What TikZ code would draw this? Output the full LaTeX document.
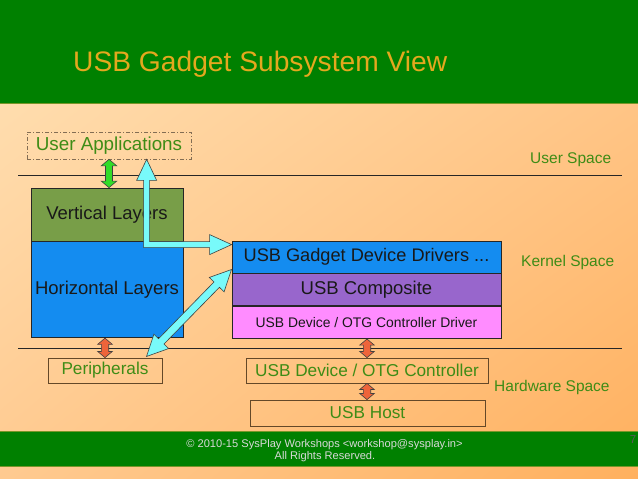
\documentclass[tikz,border=0pt]{standalone}
\usepackage{fontspec}
\setmainfont{Liberation Sans}
\usetikzlibrary{positioning,calc,shapes.arrows,shadings}
\definecolor{slidegreen}{RGB}{0,128,0}
\definecolor{barline}{RGB}{120,150,40}
\definecolor{titlegold}{RGB}{228,168,30}
\definecolor{labelgreen}{RGB}{62,140,22}
\definecolor{peachlight}{RGB}{255,226,182}
\definecolor{peachmid}{RGB}{255,202,144}
\definecolor{peachdeep}{RGB}{255,176,94}
\definecolor{layerolive}{RGB}{120,158,72}
\definecolor{layerblue}{RGB}{20,140,240}
\definecolor{layerpurple}{RGB}{152,102,204}
\definecolor{layerpink}{RGB}{255,140,255}
\definecolor{boxbrown}{RGB}{100,72,40}
\definecolor{linkcyan}{RGB}{120,250,250}
\definecolor{linkgreen}{RGB}{50,220,40}
\definecolor{linkorange}{RGB}{238,100,58}
\tikzset{
  layer/.style={draw=black!85,line width=0.8pt,inner sep=0pt,text=black!90,font=\fontsize{18.5}{20}\selectfont},
  hwbox/.style={draw=boxbrown,line width=0.8pt,inner sep=0pt,text=labelgreen,minimum height=25,font=\fontsize{17.2}{19}\selectfont},
  spacelbl/.style={anchor=base west,inner sep=0pt,text=labelgreen,font=\fontsize{15.5}{17}\selectfont},
  sepline/.style={draw=black!85,line width=0.7pt},
  fatlink/.style={double arrow,draw=black!75,line width=0.6pt,inner xsep=0pt,minimum width=0pt,double arrow head indent=0pt},
  greenlink/.style={fatlink,fill=linkgreen,inner ysep=3.2pt,double arrow head extend=4.3pt,double arrow tip angle=100},
  orangelink/.style={fatlink,fill=linkorange,inner ysep=3.4pt,double arrow head extend=3.6pt,double arrow tip angle=100},
  cyanlink/.style={fatlink,fill=linkcyan,inner ysep=3.5pt,double arrow head extend=6.5pt,double arrow tip angle=52}
}
\newcommand{\fatlink}[3]{%
  \path let \p1=(#2), \p2=(#3), \n1={atan2(\y2-\y1,\x2-\x1)}, \n2={veclen(\x2-\x1,\y2-\y1)} in
    node[#1,rotate=\n1,minimum height=\n2] at ($(\p1)!0.5!(\p2)$) {};%
}

\begin{document}
\begin{tikzpicture}[x=1pt,y=-1pt]
  \useasboundingbox (0,0) rectangle (638,479);
  % slide background
  \shade[upper left=peachlight,upper right=peachmid,lower left=peachmid,lower right=peachdeep] (0,0) rectangle (638,479);
  \fill[slidegreen] (0,0) rectangle (638,103);
  \draw[barline,line width=1.5pt] (0,103.5) -- (638,103.5);
  \fill[slidegreen] (0,431) rectangle (638,466);
  \draw[barline,line width=1pt] (0,431) -- (638,431) (0,466) -- (638,466);
  \node[anchor=base west,inner sep=0pt,text=titlegold,font=\fontsize{28.2}{30}\selectfont] (title) at (73,71) {USB Gadget Subsystem View};
  \node[anchor=base,inner sep=0pt,text=black!15,font=\fontsize{11.1}{13}\selectfont] (copy) at (324.5,447) {© 2010-15 SysPlay Workshops <workshop@sysplay.in>};
  \node[anchor=base,inner sep=0pt,text=black!15,font=\fontsize{11.1}{13}\selectfont] (rights) at (325,459.5) {All Rights Reserved.};
  \node[anchor=base east,inner sep=0pt,text=black!65,font=\fontsize{11.5}{13}\selectfont] (pageno) at (636.5,443) {7};

  % space borders
  \draw[sepline] (18,175) -- (622,175);
  \draw[sepline] (18,348) -- (622,348);
  \node[spacelbl] (usp) at (530,163) {User Space};
  \node[spacelbl] (ksp) at (521,266) {Kernel Space};
  \node[spacelbl] (hsp) at (494,391) {Hardware Space};

  % blocks
  \node[draw=boxbrown!80,line width=0.7pt,dash pattern=on 4pt off 2pt on 1pt off 2pt,inner sep=0pt,minimum width=164,minimum height=27,text=labelgreen,font=\fontsize{18.8}{20}\selectfont] (apps) at (109,145.5) {User Applications};
  \node[layer,fill=layerolive,minimum width=152,minimum height=53] (vert) at (107,214.5) {Vertical Layers};
  \node[layer,fill=layerblue,minimum width=152,minimum height=96,below=0pt of vert] (horiz) {Horizontal Layers};
  \node[layer,fill=layerblue,minimum width=269,minimum height=32,font=\fontsize{18.2}{20}\selectfont] (gdrv) at (366.5,257) {USB Gadget Device Drivers ...};
  \node[layer,fill=layerpurple,minimum width=269,minimum height=32,below=0pt of gdrv] (comp) {USB Composite};
  \node[layer,fill=layerpink,minimum width=269,minimum height=32,below=0pt of comp,font=\fontsize{13.9}{15}\selectfont] (udcdrv) {USB Device / OTG Controller Driver};
  \node[hwbox,minimum width=114] (periph) at (105,370.5) {Peripherals};
  \node[hwbox,minimum width=242] (udc) at (367,370.5) {USB Device / OTG Controller};
  \node[hwbox,minimum width=235,minimum height=26] (host) at (367.5,413) {USB Host};

  % links
  \coordinate (apptip) at ($(apps.south west)+(120,0)$);
  \coordinate (drvtip) at ($(gdrv.north west)+(0,4)$);
  \coordinate (comptip) at ($(gdrv.south west)+(0,-4)$);
  \coordinate (pertip) at ($(periph.north east)+(-16,-1)$);
  \filldraw[draw=black!75,line width=0.6pt,fill=linkcyan,line join=miter]
    (apptip) -- ($(apptip)+(10,21)$) -- ($(apptip)+(3,21)$) -- ($(apptip|-drvtip)+(3,-3)$)
    -- ($(drvtip)+(-22,-3)$) -- ($(drvtip)+(-22,-10)$) -- (drvtip) -- ($(drvtip)+(-22,10)$)
    -- ($(drvtip)+(-22,3)$) -- ($(apptip|-drvtip)+(-3,3)$) -- ($(apptip)+(-3,21)$)
    -- ($(apptip)+(-10,21)$) -- cycle;
  \fatlink{cyanlink}{pertip}{comptip}
  \fatlink{greenlink}{$(vert.north|-apps.south)+(2,0)$}{$(vert.north)+(2,0)$}
  \fatlink{orangelink}{horiz.south-|periph.north}{periph.north}
  \fatlink{orangelink}{udcdrv.south-|udc.north}{udc.north}
  \fatlink{orangelink}{udc.south}{host.north-|udc.south}
\end{tikzpicture}
\end{document}
